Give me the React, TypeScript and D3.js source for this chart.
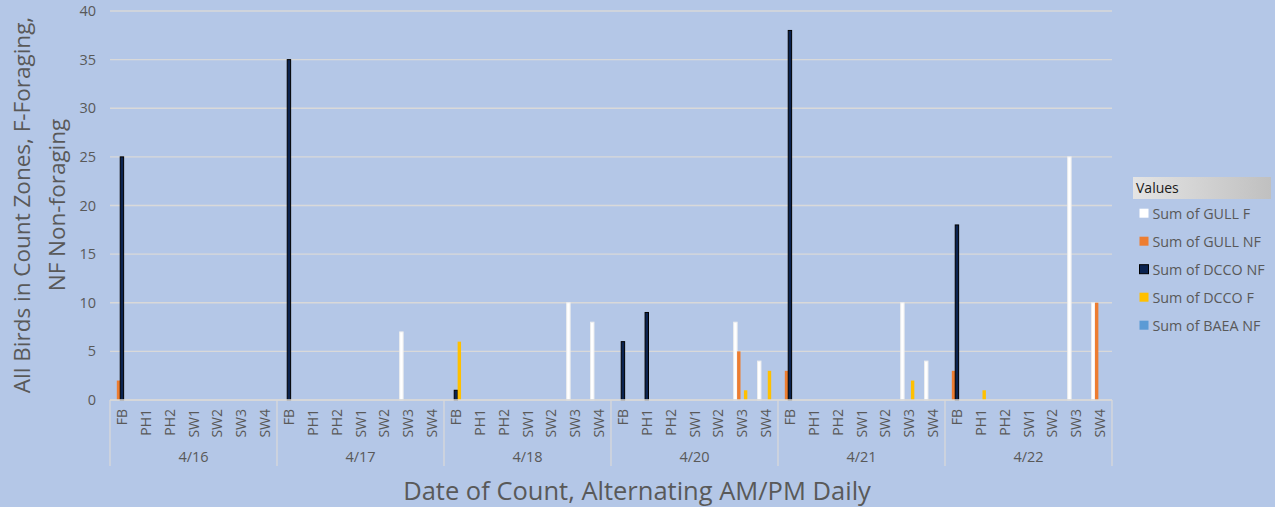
import React from 'react';
import * as d3 from 'd3';

const dates = ['4/16', '4/17', '4/18', '4/20', '4/21', '4/22'];
const sites = ['FB', 'PH1', 'PH2', 'SW1', 'SW2', 'SW3', 'SW4'];

// one value per date x site (7 per date)
const gullF = [
  0, 0, 0, 0, 0, 0, 0,
  0, 0, 0, 0, 0, 7, 0,
  0, 0, 0, 0, 0, 10, 8,
  0, 0, 0, 0, 0, 8, 4,
  0, 0, 0, 0, 0, 10, 4,
  0, 0, 0, 0, 0, 25, 10,
];
const gullNF = [
  2, 0, 0, 0, 0, 0, 0,
  0, 0, 0, 0, 0, 0, 0,
  0, 0, 0, 0, 0, 0, 0,
  0, 0, 0, 0, 0, 5, 0,
  3, 0, 0, 0, 0, 0, 0,
  3, 0, 0, 0, 0, 0, 10,
];
const dccoNF = [
  25, 0, 0, 0, 0, 0, 0,
  35, 0, 0, 0, 0, 0, 0,
  1, 0, 0, 0, 0, 0, 0,
  6, 9, 0, 0, 0, 0, 0,
  38, 0, 0, 0, 0, 0, 0,
  18, 0, 0, 0, 0, 0, 0,
];
const dccoF = [
  0, 0, 0, 0, 0, 0, 0,
  0, 0, 0, 0, 0, 0, 0,
  6, 0, 0, 0, 0, 0, 0,
  0, 0, 0, 0, 0, 1, 3,
  0, 0, 0, 0, 0, 2, 0,
  0, 1, 0, 0, 0, 0, 0,
];
const baeaNF = [
  0, 0, 0, 0, 0, 0, 0,
  0, 0, 0, 0, 0, 0, 0,
  0, 0, 0, 0, 0, 0, 0,
  0, 0, 0, 0, 0, 0, 0,
  0, 0, 0, 0, 0, 0, 0,
  0, 0, 0, 0, 0, 0, 0,
];

const yTicks = [0, 5, 10, 15, 20, 25, 30, 35, 40];

const series = [
  { name: 'Sum of GULL F', values: gullF, fill: '#ffffff', stroke: '#eeeeee' },
  { name: 'Sum of GULL NF', values: gullNF, fill: '#ed7d31', stroke: 'none' },
  { name: 'Sum of DCCO NF', values: dccoNF, fill: '#0b2350', stroke: '#000000' },
  { name: 'Sum of DCCO F', values: dccoF, fill: '#ffc000', stroke: 'none' },
  { name: 'Sum of BAEA NF', values: baeaNF, fill: '#5b9bd5', stroke: 'none' },
];

const W = 1275;
const H = 507;
const left = 110;
const right = 1112;
const top = 11;
const bottom = 400;
const FONT = '"Open Sans", "Noto Sans", sans-serif';
const GREY = '#595959';

export default function App() {
  const x0 = d3.scaleBand<string>().domain(dates).range([left, right]);
  const x1 = d3.scaleBand<string>().domain(sites).range([0, x0.bandwidth()]);
  const x2 = d3
    .scaleBand<string>()
    .domain(series.map((s) => s.name))
    .range([0, x1.bandwidth()])
    .paddingInner(0)
    .paddingOuter(1);
  const y = d3.scaleLinear().domain([0, 40]).range([bottom, top]);

  return (
    <svg
      width={W}
      height={H}
      style={{ position: 'absolute', left: 0, top: 0, background: '#b4c7e7' }}
    >
      <defs>
        <linearGradient id="hdr" x1="0" x2="1" y1="0" y2="0">
          <stop offset="0" stopColor="#e4e4e4" />
          <stop offset="1" stopColor="#c0c0c0" />
        </linearGradient>
      </defs>
      <rect width={W} height={H} fill="#b4c7e7" />

      {/* gridlines + y ticks */}
      {yTicks.map((t) => (
        <g key={t}>
          <line x1={left} x2={right} y1={y(t)} y2={y(t)} stroke="#d9d9d9" strokeWidth={1.3} />
          <text
            x={96}
            y={y(t) + 5}
            textAnchor="end"
            fontFamily={FONT}
            fontSize={14.5}
            fill={GREY}
          >
            {t}
          </text>
        </g>
      ))}

      {/* bars */}
      {dates.map((d, di) =>
        sites.map((s, si) => {
          const i = di * sites.length + si;
          const cx = (x0(d) ?? 0) + (x1(s) ?? 0);
          return series.map((ser) => {
            const v = ser.values[i];
            if (!v) return null;
            const bx = cx + (x2(ser.name) ?? 0);
            return (
              <rect
                key={`${d}-${s}-${ser.name}`}
                x={bx}
                y={y(v)}
                width={x2.bandwidth()}
                height={y(0) - y(v)}
                fill={ser.fill}
                stroke={ser.stroke}
                strokeWidth={ser.stroke === 'none' ? 0 : 1}
              />
            );
          });
        })
      )}

      {/* x axis */}
      <line x1={left} x2={right} y1={bottom} y2={bottom} stroke="#d9d9d9" strokeWidth={1.3} />
      {dates.map((d) => (
        <line
          key={`sep-${d}`}
          x1={x0(d)}
          x2={x0(d)}
          y1={bottom}
          y2={466}
          stroke="#d9d9d9"
          strokeWidth={1.3}
        />
      ))}
      <line x1={right} x2={right} y1={bottom} y2={466} stroke="#d9d9d9" strokeWidth={1.3} />
      {dates.map((d) =>
        sites.map((s) => {
          const cx = (x0(d) ?? 0) + (x1(s) ?? 0) + x1.bandwidth() / 2;
          return (
            <text
              key={`lab-${d}-${s}`}
              transform={`translate(${cx + 5},409) rotate(-90)`}
              textAnchor="end"
              fontFamily={FONT}
              fontSize={14}
              fill={GREY}
            >
              {s}
            </text>
          );
        })
      )}
      {dates.map((d) => (
        <text
          key={`date-${d}`}
          x={(x0(d) ?? 0) + x0.bandwidth() / 2}
          y={462}
          textAnchor="middle"
          fontFamily={FONT}
          fontSize={14.5}
          fill={GREY}
        >
          {d}
        </text>
      ))}

      {/* axis titles */}
      <text
        x={637}
        y={500}
        textAnchor="middle"
        fontFamily={FONT}
        fontSize={25.5}
        fill={GREY}
      >
        Date of Count, Alternating AM/PM Daily
      </text>
      <g transform="translate(0,205) rotate(-90)">
        <text x={0} y={30} textAnchor="middle" fontFamily={FONT} fontSize={22.5} fill={GREY}>
          All Birds in Count Zones, F-Foraging,
        </text>
        <text x={0} y={65} textAnchor="middle" fontFamily={FONT} fontSize={22.5} fill={GREY}>
          NF Non-foraging
        </text>
      </g>

      {/* legend */}
      <rect x={1133} y={177} width={138} height={22} fill="url(#hdr)" />
      <text x={1136} y={193} fontFamily={FONT} fontSize={14} fill="#1a1a1a">
        Values
      </text>
      {series.map((ser, i) => {
        const ly = 213.7 + i * 28;
        return (
          <g key={`leg-${ser.name}`}>
            <rect
              x={1139.5}
              y={ly - 5}
              width={9}
              height={9}
              fill={ser.fill}
              stroke={ser.stroke === '#000000' ? '#000' : 'none'}
              strokeWidth={1}
            />
            <text x={1152.5} y={ly + 5} fontFamily={FONT} fontSize={14.3} fill={GREY}>
              {ser.name}
            </text>
          </g>
        );
      })}
    </svg>
  );
}
